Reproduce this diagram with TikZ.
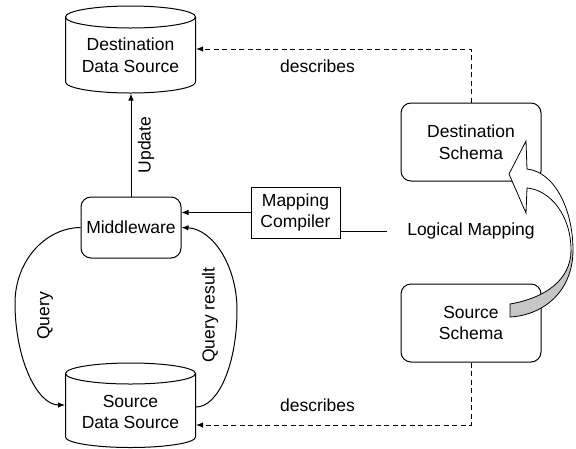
\documentclass[tikz,border=0pt]{standalone}
\usepackage{fontspec}
\setmainfont{Liberation Sans}
\usetikzlibrary{arrows.meta,calc}
\begin{document}
\begin{tikzpicture}[x=1pt,y=-1pt,
  font=\fontsize{17.5}{21.5}\selectfont,
  line width=1pt,
  >={Latex[length=7pt,width=5.5pt]},
  box/.style={draw, rounded corners=10pt, align=center, inner sep=0pt},
  plain/.style={draw, align=center, inner sep=0pt},
  txt/.style={align=center, inner sep=2pt},
  dsh/.style={dash pattern=on 5pt off 3.5pt},
  fatpath/.style={line width=0.8pt, line join=miter},
]
\useasboundingbox (0,0) rectangle (576,448);

% destination data source cylinder
\draw (65.5,17) -- (65.5,82) arc[start angle=180,end angle=360,x radius=65pt,y radius=11pt] -- (195.5,17);
\draw (130.5,17) ellipse[x radius=65pt,y radius=11pt];
\node[txt, minimum width=130pt, minimum height=76pt] (dds) at (130.5,55) {Destination\\Data Source};

% source data source cylinder
\draw (65.5,373.5) -- (65.5,437) arc[start angle=180,end angle=360,x radius=65pt,y radius=10.5pt] -- (195.5,373.5);
\draw (130.5,373.5) ellipse[x radius=65pt,y radius=10.5pt];
\node[txt, minimum width=130pt, minimum height=63pt] (sds) at (130.5,412) {Source\\Data Source};

% boxes
\node[box, minimum width=100pt, minimum height=61pt] (mw) at (131,227.5) {Middleware};
\node[plain, minimum width=89pt, minimum height=51pt] (mc) at (295.5,212.5) {Mapping\\Compiler};
\node[box, minimum width=140pt, minimum height=78pt] (dsch) at (471,142) {Destination\\Schema};
\node[box, minimum width=140pt, minimum height=78pt] (ssch) at (471,323) {Source\\Schema};
\node[txt] (lm) at (471,231) {Logical Mapping};

% connectors
\draw[->] (mw.north) -- (mw.north |- dds.south);
\node[txt, rotate=90] (uplab) at (146,145) {Update};

\draw[->] (mc.west) -- (mc.west -| mw.east);
\draw (mc.east |- lm.west) -- ([xshift=-18pt]lm.west);

\draw[->] (mw.west) .. controls (44.6,228) and (15,261.6) .. (15,303)
  .. controls (15,359.3) and (37.4,405) .. ([yshift=7pt]sds.west);
\node[txt, rotate=90] (qlab) at (45,316) {Query};

\draw[->] ([yshift=5pt]sds.east) .. controls (218.6,407) and (237,363.5) .. (237,310)
  .. controls (237,265.3) and (212.4,229) .. (mw.east);
\node[txt, rotate=90] (qrlab) at (210,315) {Query result};

\draw[dsh,->] (dsch.north) |- ([yshift=6pt]dds.east);
\node[txt] (d1) at (317.5,66) {describes};
\draw[dsh,->] (ssch.south) |- ([yshift=-13pt]sds.east);
\node[txt] (d2) at (317.5,405) {describes};

% fat curved arrow (logical mapping)
\def\fatarrow{(510,304) .. controls (545,298) and (571,280) .. (571,250)
  .. controls (571,215) and (550,190) .. (527,188) -- (526,213) -- (509,174)
  -- (526,141) -- (527,169) .. controls (555,172) and (573,210) .. (573,250)
  .. controls (573,290) and (545,315) .. (510,317) -- cycle}
\fill[white] \fatarrow;
\begin{scope}
  \clip (480,250) rectangle (576,330);
  \fill[gray!45] \fatarrow;
\end{scope}
\draw[fatpath] \fatarrow;
\end{tikzpicture}
\end{document}
